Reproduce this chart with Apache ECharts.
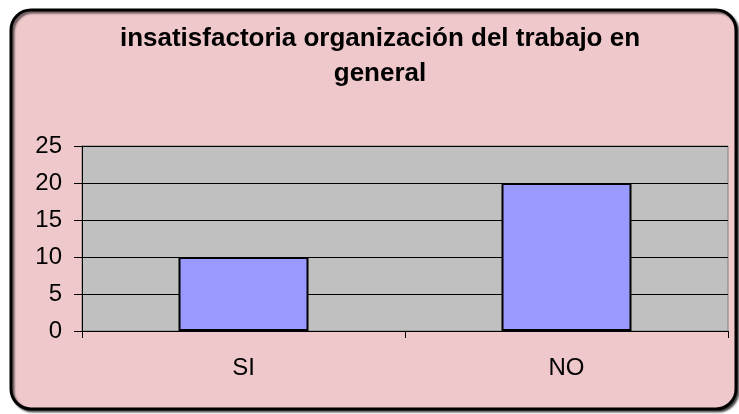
<!DOCTYPE html>
<html>
<head>
<meta charset="utf-8">
<script src="https://cdn.jsdelivr.net/npm/echarts@6/dist/echarts.min.js"></script>
<style>
  html, body { margin: 0; padding: 0; background: #ffffff; }
  #main { width: 739px; height: 414px; }
</style>
</head>
<body>
<div id="main"></div>
<script>
// datos del gráfico
var categorias = ["SI", "NO"];
var valores = [10, 20];
var titulo = "insatisfactoria organización del trabajo en\ngeneral";

var myChart = echarts.init(document.getElementById("main"));

var option = {
  animation: false,
  backgroundColor: "#ffffff",
  graphic: [
    {
      // marco con esquinas redondeadas
      type: "rect",
      z: -10,
      shape: { x: 11, y: 10, width: 725, height: 399, r: 20 },
      style: {
        fill: "#efc8cb",
        stroke: "#000000",
        lineWidth: 3,
        shadowColor: "rgba(0,0,0,0.6)",
        shadowOffsetX: 2,
        shadowOffsetY: 2,
        shadowBlur: 2
      }
    }
  ],
  title: {
    text: titulo,
    left: 380,
    top: 21,
    padding: 0,
    textAlign: "center",
    textStyle: {
      fontFamily: "Liberation Sans",
      fontSize: 26,
      fontWeight: "bold",
      color: "#000000",
      lineHeight: 35
    }
  },
  grid: {
    left: 82,
    right: 11,
    top: 146,
    bottom: 83,
    show: true,
    backgroundColor: "#c0c0c0",
    borderColor: "#808080",
    borderWidth: 1
  },
  xAxis: {
    type: "category",
    data: categorias,
    axisLine: { show: true, lineStyle: { color: "#000000", width: 1 } },
    axisTick: { show: true, length: 7, lineStyle: { color: "#000000" } },
    axisLabel: {
      margin: 25,
      fontFamily: "Liberation Sans",
      fontSize: 24,
      color: "#000000"
    }
  },
  yAxis: {
    type: "value",
    min: 0,
    max: 25,
    interval: 5,
    axisLine: { show: true, lineStyle: { color: "#000000", width: 1 } },
    axisTick: { show: true, length: 8, lineStyle: { color: "#000000" } },
    splitLine: { show: true, lineStyle: { color: "#000000", width: 1 } },
    axisLabel: {
      margin: 20,
      fontFamily: "Liberation Sans",
      fontSize: 24,
      color: "#000000"
    }
  },
  series: [
    {
      type: "bar",
      data: valores,
      barWidth: 130,
      itemStyle: {
        color: "#9999ff",
        borderColor: "#000000",
        borderWidth: 2
      }
    }
  ]
};

myChart.setOption(option);
</script>
</body>
</html>
